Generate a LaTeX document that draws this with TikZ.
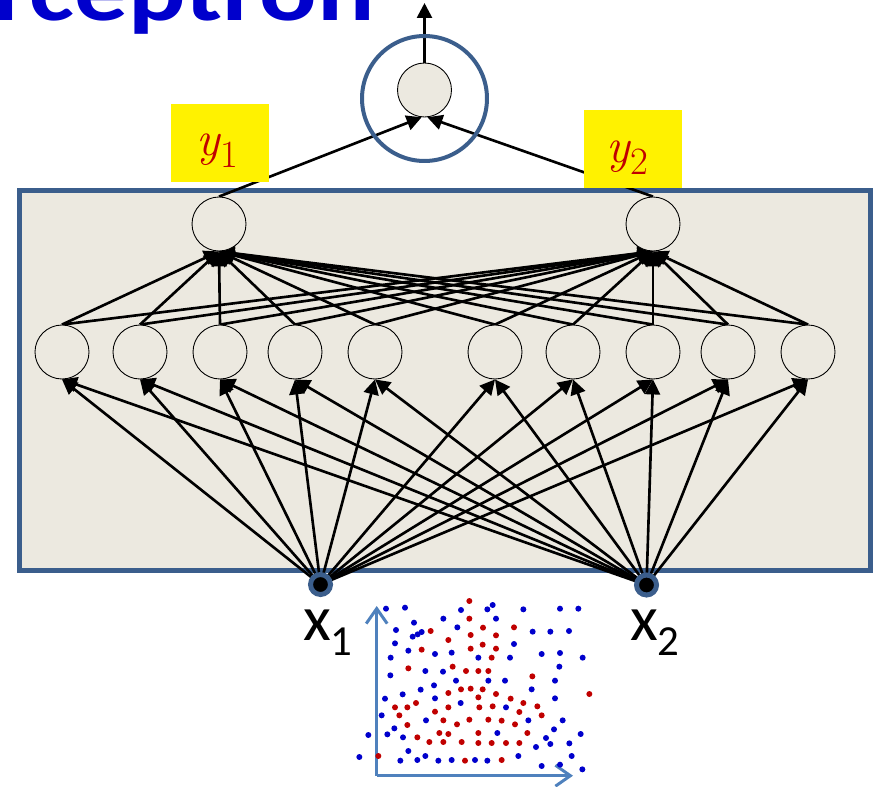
\documentclass[tikz,border=0pt]{standalone}
\usepackage{fontspec}
\newfontfamily\cali{Carlito}
\usetikzlibrary{arrows.meta}
\definecolor{frameblue}{RGB}{59,94,140}
\definecolor{beige}{RGB}{236,233,224}
\definecolor{titleblue}{RGB}{0,0,204}
\definecolor{labred}{RGB}{192,0,0}
\definecolor{axisblue}{RGB}{79,129,189}
\definecolor{dotblue}{RGB}{0,0,204}
\definecolor{dotred}{RGB}{192,0,0}
\pgfdeclarelayer{back}
\pgfdeclarelayer{edges}
\pgfsetlayers{back,edges,main}
\begin{document}
\begin{tikzpicture}[x=0.02cm,y=-0.02cm,
  neuron/.style={circle,draw=black,line width=0.5pt,fill=beige,minimum size=1.08cm,inner sep=0pt},
  inp/.style={circle,fill=black,draw=frameblue,line width=0.1cm,minimum size=0.4cm,inner sep=0pt},
  conn/.style={line width=1.5pt,-{Triangle[length=0.3cm,width=0.3cm]}},
  ybox/.style={fill=yellow,minimum width=1.96cm,minimum height=1.56cm,inner sep=0pt},
  ylab/.style={anchor=base west,inner sep=0pt,text=labred,font=\fontsize{28}{28}\selectfont\itshape},
  xlab/.style={anchor=base west,inner sep=0pt,font=\cali\fontsize{36.5}{36.5}\selectfont},
  axis/.style={axisblue,line width=0.06cm,-{Straight Barb[length=0.3cm,width=0.42cm]}},
  bdot/.style={fill=dotblue},
  rdot/.style={fill=dotred}]
\useasboundingbox (0,0) rectangle (875,787);

% title (cut off at the top)
\begin{scope}
  \clip (0,0) rectangle (875,787);
  \node[anchor=base east,inner sep=0pt,text=titleblue,font=\cali\bfseries\fontsize{50}{50}\selectfont] (title) at (375,21) {\scalebox{1.22}[1]{Perceptron}};
\end{scope}

% frame
\begin{pgfonlayer}{back}
  \draw[frameblue,line width=0.1cm,fill=beige] (19.5,190.5) rectangle (870.5,570.5);
\end{pgfonlayer}

% output
\node[neuron] (out) at (424.5,90) {};
\draw[frameblue,line width=0.08cm] (424.5,98.5) circle[radius=1.25cm];
\coordinate (top) at (424.5,3);

% second hidden layer
\node[neuron] (h1) at (219,224) {};
\node[neuron] (h2) at (653,224) {};

% first hidden layer
\foreach \xx [count=\i] in {62,140,220,295,375,495,573,653,728,808}
  \node[neuron] (a\i) at (\xx,352) {};

% inputs
\node[inp] (x1) at (320.5,584.5) {};
\node[inp] (x2) at (646.5,585) {};

% connectors
\begin{pgfonlayer}{edges}
  \draw[conn] (out.north) -- (top);
  \draw[conn] (h1.north) -- (out.264);
  \draw[conn] (h2.north) -- (out.276);
  \foreach \i in {1,...,10} {
    \draw[conn] (a\i.north) -- (h1.south);
    \draw[conn] (a\i.north) -- (h2.south);
    \draw[conn] (x1.center) -- (a\i.south);
    \draw[conn] (x2.center) -- (a\i.south);
  }
\end{pgfonlayer}

% labels y
\node[ybox] (yb1) at (220,143) {};
\node[ybox] (yb2) at (632.5,149) {};
\node[ylab] (y1) at (196,156) {y\kern0.5pt\raisebox{-6.8pt}{\fontsize{22}{22}\selectfont\upshape 1}};
\node[ylab] (y2) at (606,163) {y\kern0.5pt\raisebox{-6.8pt}{\fontsize{22}{22}\selectfont\upshape 2}};

% labels x
\node[xlab] (lx1) at (303,640) {x\kern-0.5pt\raisebox{-0.3cm}{\fontsize{24.4}{24.4}\selectfont 1}};
\node[xlab] (lx2) at (630,640) {x\kern-0.5pt\raisebox{-0.3cm}{\fontsize{24.4}{24.4}\selectfont 2}};

% scatter plot
\coordinate (o) at (376.7,775.7);
\coordinate (ytip) at (376.7,606);
\coordinate (xtip) at (573,775.7);
\draw[axis] (o) -- (ytip);
\draw[axis] (o) -- (xtip);
\foreach \a/\b in {108/56,165/53,333/60,412/58,428/45,520/58,630/56,685/56,192/98,280/86,438/86,138/120,188/140,203/133,215/126,322/112,548/125,601/125,657/123,135/160,492/162,175/182,255/192,305/188,385/203,480/203,575/192,630/189,698/203,122/203,628/230,121/256,226/243,279/245,318/272,415/272,465/272,615/272,252/286,212/299,545/298,158/313,105/326,255/325,615/325,332/339,468/352,95/376,228/391,535/391,638/391,133/415,112/433,159/442,442/429,612/418,55/435,588/444,601/462,658/460,692/432,558/471,175/483,505/498,665/498,28/501,151/512,202/510,226/498,265/512,305/510,375/510,412/512,575/528,630/524,697/538}
  \fill[bdot] ({350+\a/3},{590+\b/3}) circle[radius=0.06cm];
\foreach \a/\b in {358/33,358/86,242/123,399/113,492/112,295/150,362/135,438/136,215/179,362/176,398/164,438/176,425/203,175/235,308/230,348/243,385/243,415/243,547/259,333/298,362/296,398/298,295/309,438/312,482/326,385/322,718/312,198/339,135/352,172/352,295/352,388/352,428/349,520/339,562/349,255/365,508/366,148/376,575/376,280/391,358/389,415/389,455/392,172/405,321/403,495/403,268/429,295/432,385/429,532/429,202/442,238/456,280/456,335/456,385/459,425/459,468/459,508/459,85/498,345/512,455/510}
  \fill[rdot] ({350+\a/3},{590+\b/3}) circle[radius=0.06cm];
\end{tikzpicture}
\end{document}
